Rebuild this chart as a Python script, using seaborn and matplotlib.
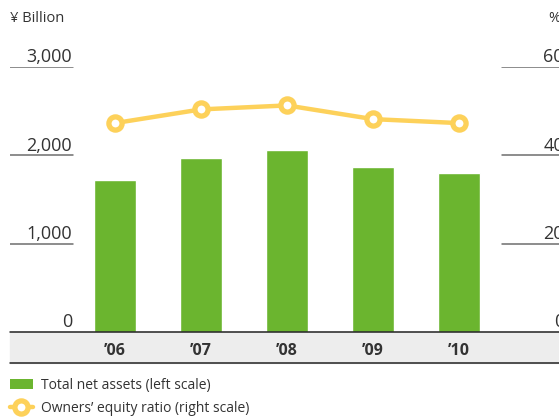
import matplotlib
matplotlib.use("Agg")
import matplotlib.pyplot as plt
import seaborn as sns
import pandas as pd
from matplotlib.patches import Rectangle, Patch
from matplotlib.lines import Line2D

years = ["’06", "’07", "’08", "’09", "’10"]
net_assets = [1720, 1970, 2060, 1870, 1800]
equity_ratio = [47.3, 50.4, 51.3, 48.2, 47.3]
left_ticks = [0, 1000, 2000, 3000]
left_tick_labels = ["0", "1,000", "2,000", "3,000"]
right_ticks = [0, 20, 40, 60]
right_tick_labels = ["0", "20", "40", "60"]

sns.set_theme(style="white")
plt.rcParams["font.family"] = ["Open Sans", "DejaVu Sans"]

GREEN = "#6bb52f"
YELLOW = "#fdd15a"
TXT = "#333333"
LINE = "#6e6e6e"

W, H = 559, 419
fig = plt.figure(figsize=(W / 100, H / 100), dpi=100)

def fx(px):
    return px / W

def fy(py):
    return 1 - py / H

# gray band under the baseline (behind the axes)
fig.patches.append(Rectangle((fx(10), fy(363)), fx(549), 31 / H,
                             transform=fig.transFigure, color="#ededed", zorder=-5))

ax = fig.add_axes([fx(10), fy(332), fx(549), 265 / H])
ax.set_facecolor("none")
df = pd.DataFrame({"year": years, "assets": net_assets, "ratio": equity_ratio})
sns.barplot(data=df, x="year", y="assets", color=GREEN, width=0.49,
            saturation=1, ax=ax, zorder=2)

ax2 = ax.twinx()
ax2.set_facecolor("none")
sns.pointplot(data=df, x="year", y="ratio", color=YELLOW, ax=ax2,
              markers="o", linestyles="-", linewidth=3.2,
              markersize=9.5, markeredgewidth=3.8,
              markerfacecolor="white", markeredgecolor=YELLOW, zorder=3)

for a, top in ((ax, 3000), (ax2, 60)):
    a.set_ylim(0, top)
    a.set_xlim(-1.221, 5.163)
    for s in a.spines.values():
        s.set_visible(False)
    a.set_yticks([])
    a.set_xlabel("")
    a.set_ylabel("")

ax.set_xticks(range(len(years)))
ax.set_xticklabels(years, fontsize=11.5, fontweight="bold", color=TXT)
ax.tick_params(axis="x", length=0, pad=8, labelbottom=True)
ax2.tick_params(axis="x", length=0, labelbottom=False)

# short grid segments and labels
for v, lab in zip(left_ticks, left_tick_labels):
    if v > 0:
        ax.axhline(v, xmin=0, xmax=(73 - 10) / 549, color=LINE, lw=1.1, zorder=1)
    ax.annotate(lab, xy=((72 - 10) / 549, v), xycoords=ax.get_yaxis_transform(),
                xytext=(0, 0.5), textcoords="offset points", ha="right", va="bottom",
                fontsize=13, color=TXT)
for v, lab in zip(right_ticks, right_tick_labels):
    if v > 0:
        ax2.axhline(v, xmin=(502 - 10) / 549, xmax=1, color=LINE, lw=1.1, zorder=1)
    ax2.annotate(lab, xy=((564 - 10) / 549, v), xycoords=ax2.get_yaxis_transform(),
                 xytext=(0, 0.5), textcoords="offset points", ha="right", va="bottom",
                 fontsize=13, color=TXT, annotation_clip=False)

# baseline and band bottom line
for py in (332, 363):
    fig.add_artist(Line2D([fx(10), 1], [fy(py), fy(py)], color="#222222", lw=1.1,
                          transform=fig.transFigure))

fig.text(fx(10), fy(18), "¥ Billion", fontsize=10.5, color=TXT, va="center", ha="left")
fig.text(fx(548), fy(18), "%", fontsize=10.5, color=TXT, va="center", ha="left")

handles = [
    Patch(facecolor=GREEN, edgecolor="none"),
    Line2D([0], [0], color=YELLOW, lw=3.2, marker="o", markersize=9.5,
           markeredgewidth=3.8, markerfacecolor="white", markeredgecolor=YELLOW),
]
fig.legend(handles, ["Total net assets (left scale)", "Owners’ equity ratio (right scale)"],
           loc="upper left", bbox_to_anchor=(fx(10), fy(378)), frameon=False,
           fontsize=10, handlelength=1.65, handleheight=0.75, handletextpad=0.55,
           labelspacing=0.55, borderaxespad=0, borderpad=0, labelcolor=TXT)

fig.savefig("out.png", dpi=100)
